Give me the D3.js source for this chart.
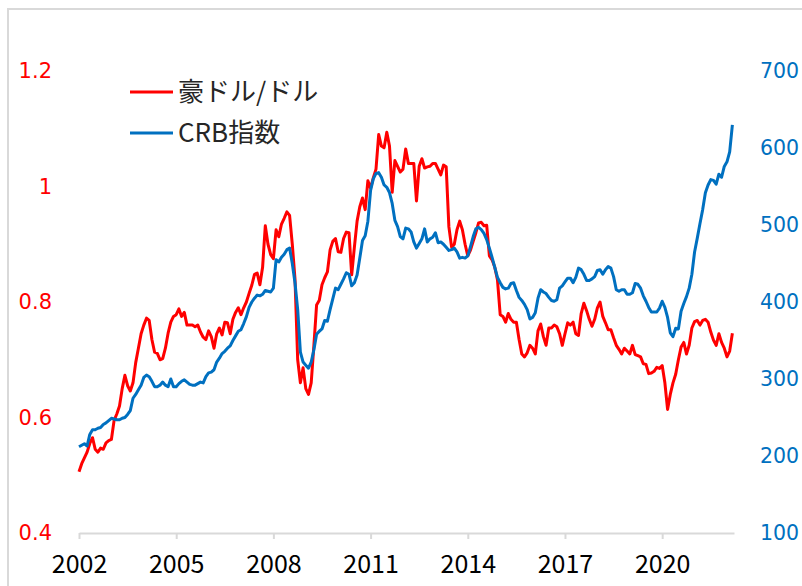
<!DOCTYPE html>
<html>
<head>
<meta charset="utf-8">
<script src="https://cdn.jsdelivr.net/npm/d3@7"></script>
<style>
  body { margin: 0; background: #fff; }
  svg { display: block; }
</style>
</head>
<body>
<svg id="chart" width="802" height="586"></svg>
<script>
// monthly values, Jan 2002 .. Mar 2022
var startYear = 2002;
var yearTicks = [2002, 2005, 2008, 2011, 2014, 2017, 2020];
var leftTicks = [0.4, 0.6, 0.8, 1, 1.2];
var rightTicks = [100, 200, 300, 400, 500, 600, 700];
var seriesNames = ["豪ドル/ドル", "CRB指数"];

var audusd = [
  0.506, 0.52, 0.53, 0.54, 0.555, 0.565, 0.545, 0.54, 0.547, 0.545, 0.556, 0.56,
  0.562, 0.595, 0.606, 0.62, 0.65, 0.673, 0.655, 0.646, 0.66, 0.695, 0.72, 0.745,
  0.76, 0.772, 0.768, 0.735, 0.713, 0.711, 0.70, 0.702, 0.72, 0.746, 0.765, 0.775,
  0.778, 0.788, 0.775, 0.782, 0.76, 0.76, 0.76, 0.757, 0.76, 0.748, 0.739, 0.735,
  0.75, 0.74, 0.72, 0.745, 0.755, 0.743, 0.765, 0.764, 0.745, 0.77, 0.782, 0.79,
  0.778, 0.79, 0.80, 0.815, 0.829, 0.848, 0.85, 0.83, 0.86, 0.932, 0.90, 0.882,
  0.875, 0.925, 0.913, 0.935, 0.945, 0.956, 0.95, 0.90, 0.84, 0.70, 0.66, 0.686,
  0.65, 0.64, 0.66, 0.725, 0.795, 0.803, 0.83, 0.842, 0.852, 0.89, 0.905, 0.91,
  0.887, 0.886, 0.91, 0.921, 0.92, 0.847, 0.895, 0.94, 0.965, 0.98, 0.96, 1.01,
  0.997, 1.015, 1.03, 1.09, 1.07, 1.067, 1.094, 1.07, 0.99, 1.045, 1.035, 1.025,
  1.03, 1.065, 1.04, 1.04, 1.04, 0.975, 1.035, 1.048, 1.032, 1.034, 1.035, 1.04,
  1.04, 1.03, 1.02, 1.037, 1.034, 0.93, 0.895, 0.9, 0.925, 0.94, 0.925, 0.9,
  0.88, 0.89, 0.905, 0.92, 0.937, 0.938, 0.932, 0.933, 0.88, 0.873, 0.86, 0.838,
  0.778, 0.775, 0.765, 0.78, 0.77, 0.765, 0.765, 0.735, 0.71, 0.705, 0.712, 0.725,
  0.72, 0.71, 0.75, 0.762, 0.74, 0.725, 0.755, 0.755, 0.76, 0.757, 0.745, 0.725,
  0.745, 0.764, 0.76, 0.765, 0.745, 0.742, 0.78, 0.798, 0.785, 0.77, 0.758, 0.77,
  0.79, 0.80, 0.775, 0.764, 0.752, 0.752, 0.738, 0.725, 0.718, 0.71, 0.72, 0.715,
  0.71, 0.725, 0.709, 0.707, 0.705, 0.693, 0.692, 0.676, 0.677, 0.68, 0.687, 0.685,
  0.69, 0.66, 0.614, 0.64, 0.66, 0.675, 0.70, 0.722, 0.73, 0.71, 0.725, 0.755,
  0.766, 0.768, 0.76, 0.768, 0.77, 0.765, 0.748, 0.734, 0.725, 0.745, 0.73, 0.72,
  0.705, 0.715, 0.746
];

var crb = [
  212, 214, 216, 213, 228, 234, 234, 236, 237, 241, 243, 246,
  249, 248, 247, 247, 249, 250, 254, 259, 275, 280, 286, 292,
  302, 305, 303, 297, 290, 290, 292, 296, 292, 290, 300, 290,
  290, 294, 297, 299, 296, 293, 292, 292, 294, 296, 295, 303,
  308, 309, 312, 322, 327, 333, 336, 340, 343, 350, 356, 362,
  364, 372, 381, 393, 400, 405, 409, 408, 410, 415, 414, 413,
  418, 455, 452, 458, 462, 468, 470, 450, 425, 390, 335, 322,
  318, 314, 322, 338, 358, 362, 365, 376, 375, 390, 404, 418,
  416, 423, 430, 438, 436, 421, 425, 435, 457, 480, 486, 505,
  545, 560, 567, 568, 562, 552, 549, 542, 528, 506, 498, 485,
  482, 496, 495, 491, 478, 470, 476, 482, 495, 478, 482, 484,
  490, 477, 478, 475, 471, 467, 468, 470, 465, 457, 458, 457,
  460, 472, 485, 495, 497, 494, 489, 481, 470, 458, 445, 432,
  425, 419, 417, 418, 424, 425, 415, 406, 402, 397, 390, 378,
  380, 386, 405, 416, 413, 411, 406, 402, 401, 403, 418, 421,
  426, 431, 431, 425, 432, 444, 442, 436, 428, 428, 430, 433,
  441, 442, 436, 442, 446, 444, 433, 416, 414, 416, 416, 410,
  410, 412, 424, 423, 418, 408, 401, 393, 387, 387, 387, 392,
  401, 393, 380, 360, 355, 366, 365, 388, 398, 407, 418, 436,
  465, 483, 502, 520, 542, 552, 559, 558, 553, 566, 562, 576,
  582, 595, 630
];

var red = "#ff0000", blue = "#0070c0";

var svg = d3.select("#chart"),
    width = +svg.attr("width"),
    height = +svg.attr("height");

var plotLeft = 79, plotRight = 734, plotTop = 71, plotBottom = 533;

// frame of the chart area (only the top/left edges show in the crop)
svg.append("rect")
    .attr("x", 8).attr("y", 9)
    .attr("width", width).attr("height", height)
    .attr("fill", "none")
    .attr("stroke", "#d9d9d9")
    .attr("stroke-width", 2);

var x = d3.scaleLinear()
    .domain([0, 242.6])
    .range([plotLeft, plotRight]);

var yLeft = d3.scaleLinear()
    .domain([0.4, 1.2])
    .range([plotBottom, plotTop]);

var yRight = d3.scaleLinear()
    .domain([100, 700])
    .range([plotBottom, plotTop]);

// x axis
var xAxis = d3.axisBottom(x)
    .tickValues(yearTicks.map(function(yr) { return (yr - startYear) * 12; }))
    .tickFormat(function(m) { return startYear + m / 12; })
    .tickSize(6)
    .tickSizeOuter(0);

var gx = svg.append("g")
    .attr("transform", "translate(0," + plotBottom + ")")
    .call(xAxis);
gx.select(".domain").attr("stroke", "#d9d9d9").attr("stroke-width", 2);
gx.selectAll(".tick line").attr("stroke", "#d9d9d9").attr("stroke-width", 2);
gx.selectAll(".tick text")
    .attr("y", 22)
    .attr("dy", "0.71em")
    .attr("fill", "#000")
    .style("font-family", "'Noto Sans CJK JP', sans-serif")
    .style("font-size", "25px");

// left axis (no line)
var gl = svg.append("g")
    .attr("transform", "translate(52,0)")
    .call(d3.axisLeft(yLeft).tickValues(leftTicks)
        .tickFormat(function(d) { return String(d); })
        .tickSize(0));
gl.select(".domain").remove();
gl.selectAll(".tick text")
    .attr("x", 0)
    .attr("fill", red)
    .style("font-family", "'DejaVu Sans', Verdana, sans-serif")
    .style("font-size", "21px");

// right axis (no line)
var gr = svg.append("g")
    .attr("transform", "translate(760,0)")
    .call(d3.axisRight(yRight).tickValues(rightTicks).tickSize(0));
gr.select(".domain").remove();
gr.selectAll(".tick text")
    .attr("x", 0)
    .attr("fill", blue)
    .style("font-family", "'DejaVu Sans', Verdana, sans-serif")
    .style("font-size", "20.5px");

// lines
var lineRight = d3.line()
    .x(function(d, i) { return x(i); })
    .y(function(d) { return yRight(d); });

var lineLeft = d3.line()
    .x(function(d, i) { return x(i); })
    .y(function(d) { return yLeft(d); });

svg.append("path")
    .datum(audusd)
    .attr("fill", "none")
    .attr("stroke", red)
    .attr("stroke-width", 3)
    .attr("stroke-linejoin", "round")
    .attr("d", lineLeft);

svg.append("path")
    .datum(crb)
    .attr("fill", "none")
    .attr("stroke", blue)
    .attr("stroke-width", 3)
    .attr("stroke-linejoin", "round")
    .attr("d", lineRight);

// legend
var legend = svg.append("g").selectAll("g")
    .data([{ name: seriesNames[0], color: red }, { name: seriesNames[1], color: blue }])
    .enter().append("g")
    .attr("transform", function(d, i) { return "translate(130," + (92 + i * 41) + ")"; });

legend.append("line")
    .attr("x1", 0).attr("x2", 43)
    .attr("stroke", function(d) { return d.color; })
    .attr("stroke-width", 3);

legend.append("text")
    .attr("x", 48)
    .attr("y", 9)
    .attr("fill", "#262626")
    .style("font-family", "'Noto Sans CJK JP', sans-serif")
    .style("font-size", "26px")
    .text(function(d) { return d.name; });
</script>
</body>
</html>
